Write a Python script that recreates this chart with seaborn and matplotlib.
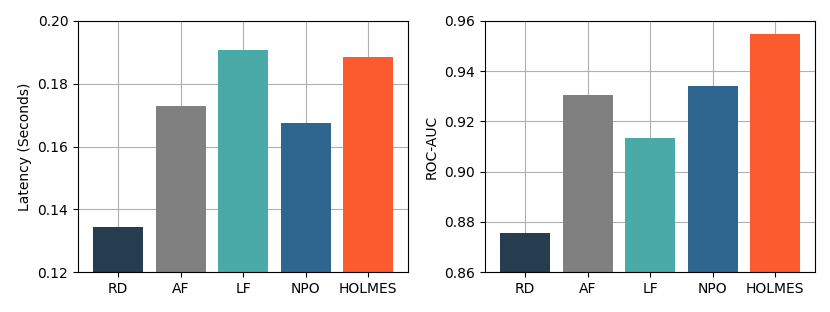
import matplotlib
matplotlib.use("Agg")
import matplotlib.pyplot as plt
import seaborn as sns
import pandas as pd

# methods compared
methods = ['RD', 'AF', 'LF', 'NPO', 'HOLMES']
latency = [0.1343, 0.1729, 0.1907, 0.1676, 0.1886]
roc_auc = [0.8757, 0.9305, 0.9135, 0.9341, 0.9549]
colors = ['#253D4E', '#808080', '#4AAAA8', '#2F668F', '#FC5A2F']

df = pd.DataFrame({'method': methods, 'latency': latency, 'roc_auc': roc_auc})

fig = plt.figure(figsize=(8.3, 3.12), dpi=100)
ax1 = fig.add_axes([78 / 830, 40 / 312, 330 / 830, 251 / 312])
ax2 = fig.add_axes([485 / 830, 40 / 312, 330 / 830, 251 / 312])

def draw(ax, col, ylim, yticks, ylabel):
    sns.barplot(data=df, x='method', y=col, hue='method', palette=colors,
                legend=False, width=0.8, saturation=1, ax=ax)
    ax.set_xlim(-0.64, 4.64)
    ax.set_ylim(*ylim)
    ax.set_yticks(yticks)
    ax.set_yticklabels([f'{t:.2f}' for t in yticks])
    ax.set_xlabel('')
    ax.set_ylabel(ylabel)
    ax.grid(True, color='#b0b0b0', linewidth=0.8)
    ax.set_axisbelow(True)

draw(ax1, 'latency', (0.12, 0.20), [0.12, 0.14, 0.16, 0.18, 0.20], 'Latency (Seconds)')
draw(ax2, 'roc_auc', (0.86, 0.96), [0.86, 0.88, 0.90, 0.92, 0.94, 0.96], 'ROC-AUC')

fig.savefig('out.png', dpi=100)
